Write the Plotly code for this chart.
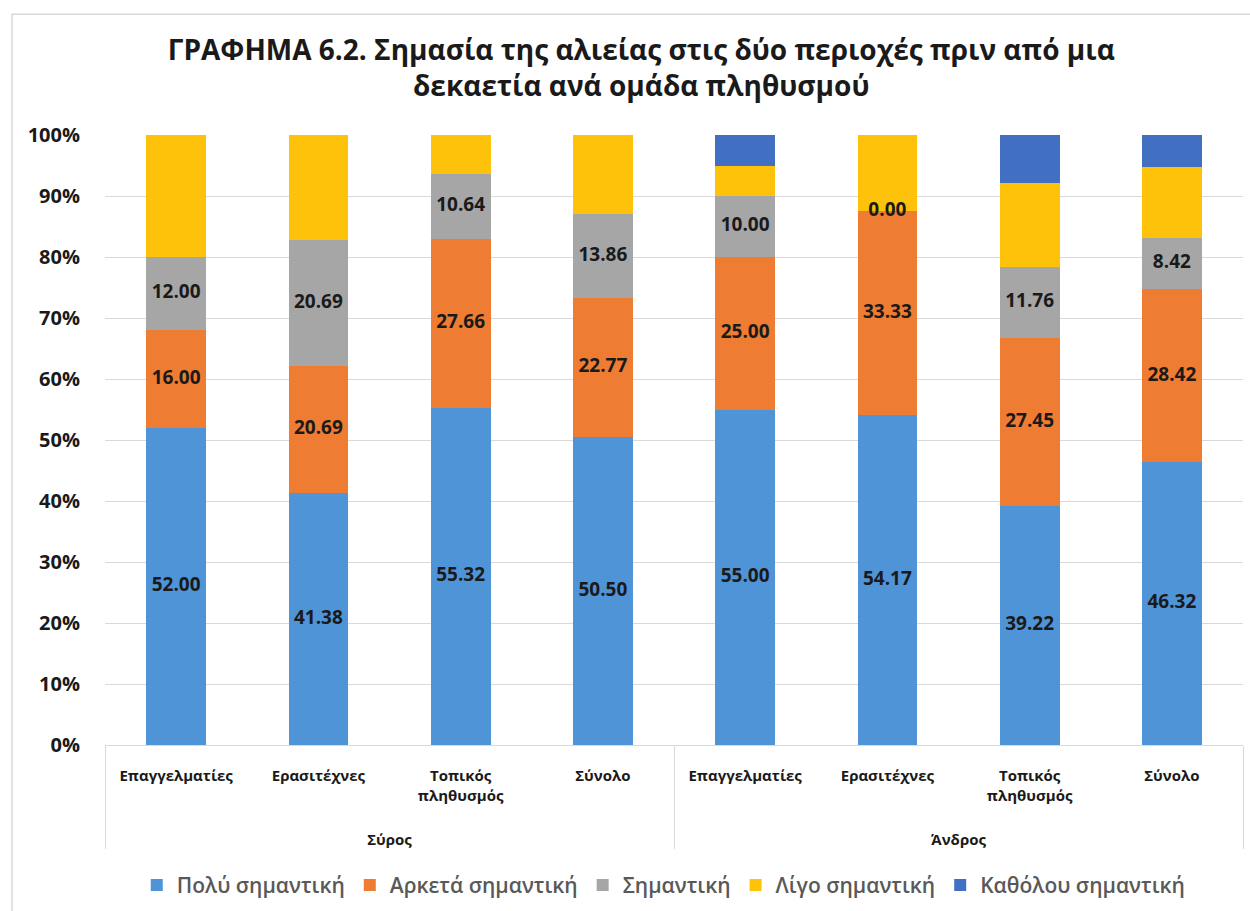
import plotly.graph_objects as go

# Regions (outer level) and population groups (inner level)
regions = ["Σύρος"] * 4 + ["Άνδρος"] * 4
groups = ["Επαγγελματίες", "Ερασιτέχνες", "Τοπικός<br>πληθυσμός<br>\u00a0<br>\u00a0", "Σύνολο"] * 2

# Share (%) of each answer per group
poly = [52.00, 41.38, 55.32, 50.50, 55.00, 54.17, 39.22, 46.32]
arketa = [16.00, 20.69, 27.66, 22.77, 25.00, 33.33, 27.45, 28.42]
simantiki = [12.00, 20.69, 10.64, 13.86, 10.00, 0.00, 11.76, 8.42]
ligo = [20.00, 17.24, 6.38, 12.87, 5.00, 12.50, 13.73, 11.58]
katholou = [0.00, 0.00, 0.00, 0.00, 5.00, 0.00, 7.84, 5.26]

series_names = ["Πολύ σημαντική", "Αρκετά σημαντική", "Σημαντική",
                "Λίγο σημαντική", "Καθόλου σημαντική"]
series_values = [poly, arketa, simantiki, ligo, katholou]
series_colors = ["#5094D8", "#EE7C32", "#A6A6A6", "#FFC20A", "#4170C2"]
labelled = [True, True, True, False, False]

FONT = "Open Sans"
x = [regions, groups]

fig = go.Figure()
for name, vals, col in zip(series_names, series_values, series_colors):
    fig.add_trace(go.Bar(
        x=x, y=vals, name=name,
        marker=dict(color=col, line=dict(width=0)),
        hoverinfo="skip",
    ))

# Value labels centred in the first three segments of each bar
base = [0.0] * len(poly)
for vals, show in zip(series_values, labelled):
    mids = [b + v / 2 for b, v in zip(base, vals)]
    if show:
        fig.add_trace(go.Scatter(
            x=x, y=mids, mode="text",
            text=[f"{v:.2f}" for v in vals],
            textposition="middle center",
            textfont=dict(family=FONT, size=19, color="#1A1A1A", weight="bold"),
            showlegend=False, hoverinfo="skip",
        ))
    base = [b + v for b, v in zip(base, vals)]

fig.update_layout(
    width=1250, height=911,
    margin=dict(l=105, r=7, t=135, b=165),
    paper_bgcolor="white", plot_bgcolor="white",
    barmode="stack", bargap=0.58,
    font=dict(family=FONT, color="#1A1A1A"),
    title=dict(
        text="<b>ΓΡΑΦΗΜΑ 6.2. Σημασία της αλιείας στις δύο περιοχές πριν από μια<br>δεκαετία ανά ομάδα πληθυσμού</b>",
        x=0.513, xanchor="center", yref="container", y=1 - 60 / 911, yanchor="top",
        font=dict(family=FONT, size=28, color="#1A1A1A"),
    ),
    legend=dict(
        orientation="h", x=0.491, xanchor="center", y=-0.228, yanchor="middle",
        font=dict(family=FONT, size=21, color="#595959", weight=600),
        traceorder="normal", itemwidth=30,
    ),
    showlegend=True,
)

fig.update_xaxes(
    type="multicategory",
    showline=True, linecolor="#D9D9D9", linewidth=1,
    showdividers=True, dividercolor="#D9D9D9", dividerwidth=1,
    tickfont=dict(family=FONT, size=15, color="#1A1A1A", weight="bold"),
    showgrid=False, ticks="", ticklabelstandoff=17,
)
fig.update_yaxes(
    range=[0, 100], dtick=10, ticksuffix="%",
    showgrid=True, gridcolor="#D9D9D9", gridwidth=1,
    zeroline=False, showline=False,
    tickfont=dict(family=FONT, size=20, color="#1A1A1A", weight="bold"),
    ticklabelstandoff=24,
)

# Thin frame around the whole chart
fig.add_shape(type="rect", xref="paper", yref="paper",
              x0=-0.0817, x1=1.05, y0=-0.4, y1=1.198,
              line=dict(color="#D9D9D9", width=1.5), fillcolor="rgba(0,0,0,0)",
              layer="below")

fig.write_html("out.html")
